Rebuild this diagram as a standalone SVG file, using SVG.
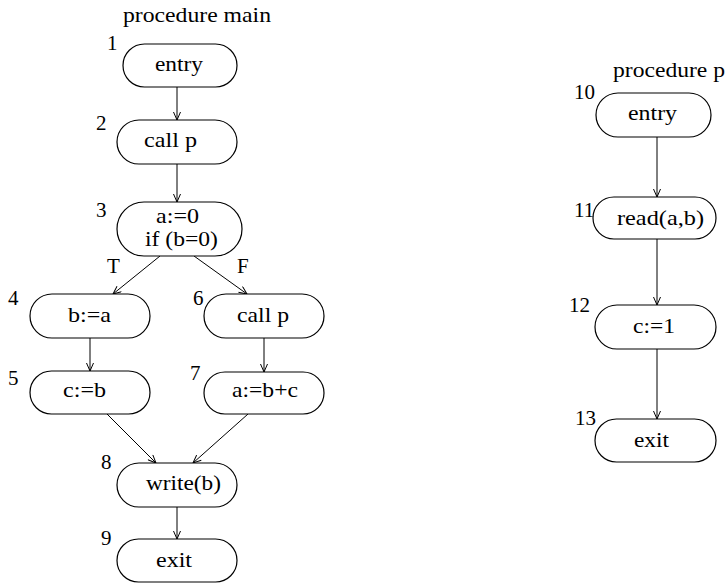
<svg xmlns="http://www.w3.org/2000/svg" width="726" height="584" viewBox="0 0 726 584">
<style>
.n{fill:#fff;stroke:#000;stroke-width:1.2}
text{font-family:"Liberation Serif","Times New Roman",serif;font-size:21px;fill:#000}
.e{stroke:#000;stroke-width:1;fill:none;marker-end:url(#ah)}
</style>
<defs>
<marker id="ah" markerWidth="10" markerHeight="8" refX="9" refY="4" orient="auto" markerUnits="userSpaceOnUse">
<path d="M1,0.5 L9,4 L1,7.5" fill="none" stroke="#000" stroke-width="1"/>
</marker>
</defs>
<rect width="726" height="584" fill="#fff"/>
<text x="123" y="22" textLength="148" lengthAdjust="spacingAndGlyphs">procedure main</text>
<text x="613" y="77" textLength="112" lengthAdjust="spacingAndGlyphs">procedure p</text>
<g id="connectors">
<line class="e" x1="177" y1="87" x2="177" y2="120"/>
<line class="e" x1="177" y1="164" x2="177" y2="202"/>
<line class="e" x1="160" y1="256" x2="113" y2="294"/>
<line class="e" x1="194" y1="256" x2="247" y2="294"/>
<line class="e" x1="90" y1="338" x2="90" y2="371"/>
<line class="e" x1="264" y1="338" x2="264" y2="372"/>
<line class="e" x1="107" y1="414" x2="156" y2="463"/>
<line class="e" x1="248" y1="414" x2="193" y2="463"/>
<line class="e" x1="177" y1="507" x2="177" y2="539"/>
<line class="e" x1="657" y1="137" x2="657" y2="197"/>
<line class="e" x1="657" y1="239" x2="657" y2="305"/>
<line class="e" x1="657" y1="349" x2="657" y2="419"/>
<text x="107" y="273">T</text>
<text x="237" y="273">F</text>
</g>
<g id="n1"><rect class="n" x="123" y="44" width="114" height="43" rx="21.5"/><text x="155" y="71" textLength="48" lengthAdjust="spacingAndGlyphs">entry</text><text x="107" y="50">1</text></g>
<g id="n2"><rect class="n" x="117" y="120" width="120" height="44" rx="22"/><text x="144" y="147" textLength="53" lengthAdjust="spacingAndGlyphs">call p</text><text x="96" y="130">2</text></g>
<g id="n3"><rect class="n" x="117" y="202" width="125" height="54" rx="27"/><text x="156" y="223" textLength="43" lengthAdjust="spacingAndGlyphs">a:=0</text><text x="145" y="246" textLength="73" lengthAdjust="spacingAndGlyphs">if (b=0)</text><text x="96" y="217">3</text></g>
<g id="n4"><rect class="n" x="30" y="294" width="120" height="44" rx="22"/><text x="68" y="322" textLength="43" lengthAdjust="spacingAndGlyphs">b:=a</text><text x="8" y="305">4</text></g>
<g id="n5"><rect class="n" x="30" y="371" width="120" height="43" rx="21.5"/><text x="63" y="397" textLength="43" lengthAdjust="spacingAndGlyphs">c:=b</text><text x="8" y="385">5</text></g>
<g id="n6"><rect class="n" x="204" y="294" width="120" height="44" rx="22"/><text x="237" y="322" textLength="52" lengthAdjust="spacingAndGlyphs">call p</text><text x="193" y="305">6</text></g>
<g id="n7"><rect class="n" x="204" y="372" width="120" height="42" rx="21"/><text x="232" y="397" textLength="66" lengthAdjust="spacingAndGlyphs">a:=b+c</text><text x="190" y="380">7</text></g>
<g id="n8"><rect class="n" x="117" y="463" width="120" height="44" rx="22"/><text x="146" y="490" textLength="75" lengthAdjust="spacingAndGlyphs">write(b)</text><text x="101" y="469">8</text></g>
<g id="n9"><rect class="n" x="117" y="539" width="120" height="43" rx="21.5"/><text x="156" y="567" textLength="36" lengthAdjust="spacingAndGlyphs">exit</text><text x="101" y="545">9</text></g>
<g id="n10"><rect class="n" x="596" y="93" width="115" height="44" rx="22"/><text x="628" y="120" textLength="49" lengthAdjust="spacingAndGlyphs">entry</text><text x="574" y="99">10</text></g>
<g id="n11"><rect class="n" x="593" y="197" width="123" height="42" rx="21"/><text x="617" y="225" textLength="87" lengthAdjust="spacingAndGlyphs">read(a,b)</text><text x="574" y="217">11</text></g>
<g id="n12"><rect class="n" x="595" y="305" width="121" height="44" rx="22"/><text x="633" y="333" textLength="42" lengthAdjust="spacingAndGlyphs">c:=1</text><text x="569" y="312">12</text></g>
<g id="n13"><rect class="n" x="595" y="419" width="121" height="43" rx="21.5"/><text x="634" y="447" textLength="35" lengthAdjust="spacingAndGlyphs">exit</text><text x="575" y="425">13</text></g>
</svg>
